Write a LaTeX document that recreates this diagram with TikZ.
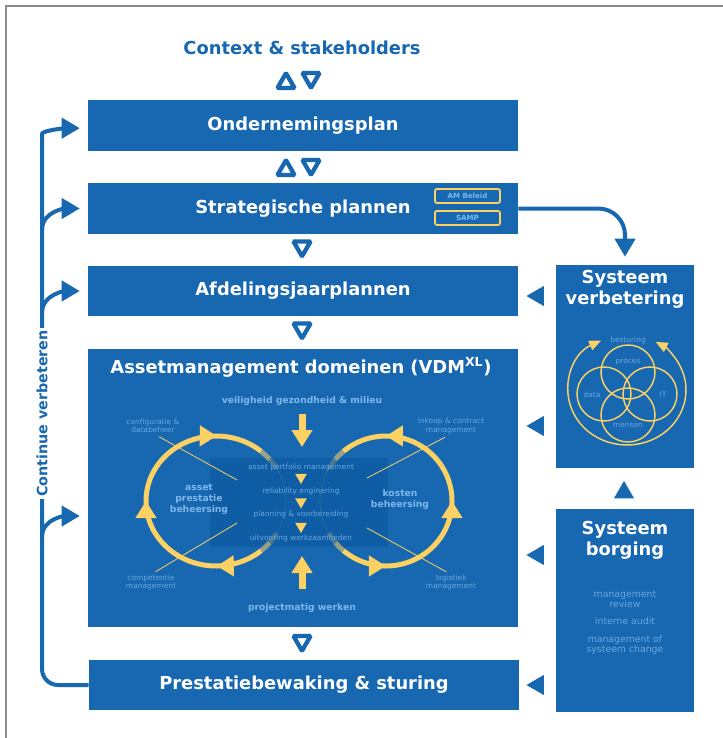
\documentclass[tikz,border=0pt]{standalone}
\usepackage{fontspec}
\setmainfont{DejaVu Sans}
\usetikzlibrary{arrows.meta,shapes.geometric,decorations.markings}

\definecolor{vdmblue}{HTML}{1767B1}
\definecolor{vdmdark}{HTML}{0F5DA5}
\definecolor{vdmlight}{HTML}{7DB9EA}
\definecolor{vdmsoft}{HTML}{6AA8E0}
\definecolor{vdmyellow}{HTML}{FCD163}
\definecolor{framegray}{HTML}{8C8C8C}

\newcommand\vdmtitle{\fontsize{13.4}{15.8}\selectfont\bfseries}
\newcommand\vdmlabel{\fontsize{6.9}{8.3}\selectfont\bfseries}
\newcommand\vdmsmall{\fontsize{5.6}{6.3}\selectfont}
\newcommand\vdmitem{\fontsize{7}{7.6}\selectfont}

\tikzset{
  planbox/.style={fill=vdmblue, text=white, font=\vdmtitle, minimum width=322.5pt, minimum height=38pt, inner sep=0pt},
  sysbox/.style={fill=vdmblue, minimum width=103.5pt, minimum height=152.25pt, inner sep=0pt},
  titletext/.style={text=white, font=\vdmtitle, align=center, inner sep=0pt},
  bluelabel/.style={text=vdmlight, font=\vdmlabel, align=center, inner sep=0pt},
  softlabel/.style={text=vdmsoft, font=\vdmsmall, align=center, inner sep=0pt},
  itemlabel/.style={text=vdmsoft, font=\vdmitem, align=center, inner sep=0pt},
  flowtri/.style={regular polygon, regular polygon sides=3, draw=vdmblue, fill=white, line width=3.2pt, rounded corners=0.8pt, minimum size=14.7pt, inner sep=0pt},
  sidetri/.style={regular polygon, regular polygon sides=3, fill=vdmblue, minimum size=17.3pt, inner sep=0pt},
  steptri/.style={regular polygon, regular polygon sides=3, fill=vdmyellow, shape border rotate=180, minimum size=10pt, inner sep=0pt},
  docbox/.style={draw=vdmyellow, line width=1.4pt, rounded corners=1.5pt, text=vdmlight, font=\fontsize{5.3}{6}\selectfont\bfseries, minimum width=48.75pt, minimum height=10.5pt, inner sep=0pt},
  bluearrow/.style={draw=vdmblue, line width=3pt, -{Triangle[width=15pt,length=13.5pt]}, shorten >=6pt},
  cvline/.style={draw=vdmblue, line width=3pt},
  yarrow/.style={draw=vdmyellow, line width=5.25pt, -{Triangle[width=15pt,length=12.75pt]}},
  yloop/.style={draw=vdmyellow, line width=3.75pt},
  loophead/.tip={Triangle[width=15pt,length=12.75pt]},
  flowmarks/.style={postaction=decorate, decoration={markings,
      mark=at position .154 with {\arrow{loophead}},
      mark=at position .5 with {\arrow{loophead}},
      mark=at position .846 with {\arrow{loophead}}}},
  faintloop/.style={draw=vdmyellow, opacity=.3, line width=.5pt, densely dotted},
  labelline/.style={draw=vdmyellow, line width=.6pt},
  ringline/.style={draw=vdmyellow, line width=1.1pt},
  pageframe/.style={draw=framegray, line width=1.1pt}
}

\begin{document}
\begin{tikzpicture}[x=0.75pt, y=0.75pt]
  \useasboundingbox (0,0) rectangle (723,-738);
  \fill[white] (0,0) rectangle (723,-738);

  % page frame
  \draw[pageframe] (6,-738) -- (6,-5.8) -- (723,-5.8);

  % 'context'
  \node[text=vdmblue, font=\vdmtitle, inner sep=0pt] at (302,-48) (ctx) {Context \& stakeholders};
  \node[flowtri] at (286,-83) (ctxup) {};
  \node[flowtri, shape border rotate=180] at (311,-78) (ctxdown) {};

  % 'ondernemingsplan'
  \node[planbox] at (303,-125.5) (ond) {Ondernemingsplan};
  \node[flowtri] at (286,-170) (ondup) {};
  \node[flowtri, shape border rotate=180] at (311,-165) (onddown) {};

  % 'strategische plannen'
  \node[planbox] at (303,-208.5) (strat) {Strategische plannen};
  \node[docbox] at (467.5,-196) (ambeleid) {AM Beleid};
  \node[docbox] at (467.5,-218) (samp) {SAMP};
  \node[flowtri, shape border rotate=180] at (302,-246.5) (stratdown) {};

  % 'afdelingsjaarplannen'
  \node[planbox] at (303,-291) (afd) {Afdelingsjaarplannen};
  \node[flowtri, shape border rotate=180] at (302,-328.5) (afddown) {};

  % 'assetmanagement domeinen'
  \node[planbox, minimum height=208.5pt] at (303,-488) (asset) {};
  \fill[vdmdark] (210,-458) rectangle (388,-547);
  \node[titletext] at (301,-367) (assettitle) {Assetmanagement domeinen (VDM\textsuperscript{XL})};
  \node[bluelabel] at (302,-401) (vgm) {veiligheid gezondheid \& milieu};
  \node[bluelabel] at (302,-608) (pmw) {projectmatig werken};

  \coordinate (vgmtop) at (302,-414);
  \coordinate (vgmtip) at (302,-447);
  \coordinate (pmwbase) at (302,-589);
  \coordinate (pmwtip) at (302,-556);
  \draw[yarrow] (vgmtop) -- (vgmtip);
  \draw[yarrow] (pmwbase) -- (pmwtip);

  % corner labels and their lines
  \node[softlabel] at (153,-426) (cfg) {configuratie \&\\databeheer};
  \node[softlabel] at (151,-582.5) (comp) {competentie\\management};
  \node[softlabel] at (451,-426) (inkoop) {inkoop \& contract\\management};
  \node[softlabel] at (451,-582.5) (logis) {logistiek\\management};
  \coordinate (cfgend) at (237,-480);
  \coordinate (compend) at (237,-523);
  \coordinate (inkoopend) at (367,-478);
  \coordinate (logisend) at (367,-528);
  \draw[labelline, shorten <=5pt] (cfg.south) -- (cfgend);
  \draw[labelline, shorten >=4pt] (compend) -- (comp.north);
  \draw[labelline, shorten <=5pt] (inkoop.south) -- (inkoopend);
  \draw[labelline, shorten >=4pt] (logisend) -- (logis.north);

  % the two loops
  \draw[faintloop] (216,-501) ellipse[x radius=70, y radius=65];
  \draw[faintloop] (386,-501) ellipse[x radius=66, y radius=65];
  \draw[yloop, flowmarks] (216,-501) ++(-50:70 and 65) arc[start angle=-50, end angle=-310, x radius=70, y radius=65];
  \draw[yloop, flowmarks] (386,-501) ++(-130:66 and 65) arc[start angle=-130, end angle=130, x radius=66, y radius=65];
  \foreach \a/\b/\o in {-50/-40/.55, -40/-30/.22, -310/-320/.55, -320/-330/.22}
    \draw[yloop, opacity=\o] (216,-501) ++(\a:70 and 65) arc[start angle=\a, end angle=\b, x radius=70, y radius=65];
  \foreach \a/\b/\o in {-130/-140/.55, -140/-150/.22, 130/140/.55, 140/150/.22}
    \draw[yloop, opacity=\o] (386,-501) ++(\a:66 and 65) arc[start angle=\a, end angle=\b, x radius=66, y radius=65];

  \node[bluelabel] at (199,-499) (apb) {asset\\prestatie\\beheersing};
  \node[bluelabel] at (400,-499.5) (kb) {kosten\\beheersing};

  % 'primair proces'
  \node[softlabel] at (301,-467) (apm) {asset portfolio management};
  \node[steptri] at (301,-477.3) (apmstep) {};
  \node[softlabel] at (301,-491) (rel) {reliability enginering};
  \node[steptri] at (301,-501.8) (relstep) {};
  \node[softlabel] at (301,-514) (plan) {planning \& voorbereiding};
  \node[steptri] at (301,-526.3) (planstep) {};
  \node[softlabel] at (301,-538) (uitv) {uitvoering werkzaamheden};

  % 'prestatiebewaking'
  \node[flowtri, shape border rotate=180] at (302,-641) (assetdown) {};
  \node[planbox] at (304,-685) (prest) {Prestatiebewaking \& sturing};

  % 'systeem verbetering'
  \node[sysbox] at (625,-366.5) (sysverb) {};
  \node[titletext] at (625,-289.5) (sysverbtitle) {Systeem\\verbetering};
  \draw[ringline] (628,-372) circle[radius=27];
  \draw[ringline] (604,-394) circle[radius=27];
  \draw[ringline] (650,-394) circle[radius=27];
  \draw[ringline] (628,-415) circle[radius=27];
  \draw[ringline, {Triangle[width=7.5pt,length=9pt]}-{Triangle[width=7.5pt,length=9pt]}]
    (627,-390) ++(116:59 and 55) arc[start angle=116, end angle=421, x radius=59, y radius=55];
  \node[softlabel] at (628,-340) (besturing) {besturing};
  \node[softlabel] at (628,-362) (proces) {proces};
  \node[softlabel] at (592,-395) (data) {data};
  \node[softlabel] at (663,-395) (it) {IT};
  \node[softlabel] at (628,-425) (mensen) {mensen};

  % 'systeem borging'
  \node[sysbox] at (625,-610.5) (sysborg) {};
  \node[titletext] at (625,-540) (sysborgtitle) {Systeem\\borging};
  \node[itemlabel] at (625,-599) (review) {management\\review};
  \node[itemlabel] at (625,-621) (audit) {interne audit};
  \node[itemlabel] at (625,-644.5) (change) {management of\\systeem change};
  \node[sidetri, shape border rotate=0] at (624,-492.5) (borgup) {};

  % feedback towards the plan boxes
  \node[sidetri, shape border rotate=90] at (538,-296) (fbafd) {};
  \node[sidetri, shape border rotate=90] at (538,-426) (fbasset) {};
  \node[sidetri, shape border rotate=90] at (538,-555) (fbborg) {};
  \node[sidetri, shape border rotate=90] at (538,-685) (fbprest) {};

  \draw[bluearrow, rounded corners=20pt] (strat.east) -| (sysverb.north);

  % 'continue verbeteren'
  \coordinate (cvtop) at (42,-150);
  \coordinate (cvstrat) at (42,-230);
  \coordinate (cvafd) at (42,-313);
  \coordinate (cvasset) at (42,-537);
  \draw[cvline, -{Triangle[width=15pt,length=13.5pt]}, shorten >=6pt, rounded corners=12pt]
    (prest.west) -| (cvtop) to[out=90, in=180] ([yshift=-2pt]ond.west);
  \draw[bluearrow] (cvstrat) to[out=90, in=180] (strat.west);
  \draw[bluearrow] (cvafd) to[out=90, in=180] (afd.west);
  \draw[bluearrow] (cvasset) to[out=90, in=180] ([yshift=-21pt]asset.west);
  \node[fill=white, text=vdmblue, font=\fontsize{10.7}{12}\selectfont\bfseries, rotate=90, inner sep=2pt] at (42,-413.5) (cv) {Continue verbeteren};
\end{tikzpicture}
\end{document}
